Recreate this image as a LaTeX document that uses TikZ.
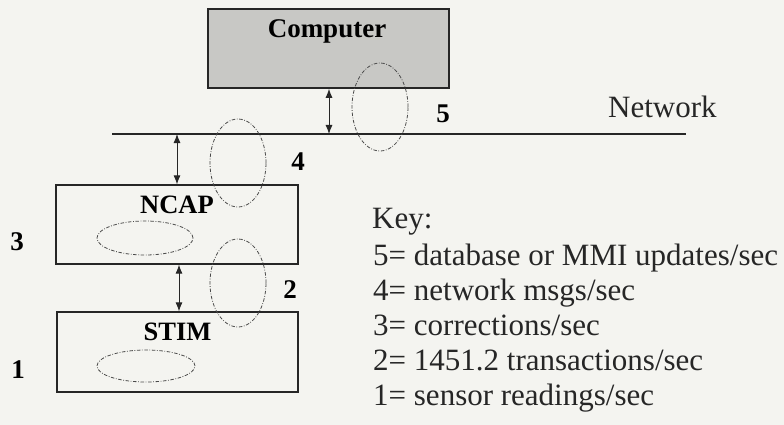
\documentclass[tikz,border=0pt]{standalone}
\usepackage{fontspec}
\setmainfont{Liberation Serif}
\usetikzlibrary{shapes.geometric,arrows.meta}

\definecolor{paper}{HTML}{F4F4F0}
\definecolor{ink}{HTML}{262626}
\definecolor{boxgray}{HTML}{C8C8C5}
\definecolor{dashink}{HTML}{4A4A4A}

\tikzset{
  module/.style={draw=ink, line width=1.3pt, fill=paper, inner sep=0pt},
  hostbox/.style={draw=ink, line width=1.6pt, fill=boxgray, inner sep=0pt},
  boxlabel/.style={font=\fontsize{26.5}{26.5}\selectfont\bfseries, anchor=base, inner sep=0pt},
  ratenum/.style={font=\fontsize{27}{27}\selectfont\bfseries, anchor=base, inner sep=0pt},
  keytext/.style={font=\fontsize{31}{31}\selectfont, anchor=base west, inner sep=0pt, text=ink},
  flowring/.style={ellipse, draw=dashink, line width=0.8pt,
    dash pattern=on 3.5pt off 1.6pt on 0.8pt off 1.6pt, inner sep=0pt},
  link/.style={draw=ink, line width=0.9pt,
    {Latex[length=9pt,width=7pt]}-{Latex[length=9pt,width=7pt]}},
}

\begin{document}
\begin{tikzpicture}[x=1pt,y=-1pt]
  % page
  \fill[paper] (0,0) rectangle (784,425);
  \useasboundingbox (0,0) rectangle (784,425);

  % computer
  \node[hostbox, minimum width=241pt, minimum height=79pt] (comp) at (328.5,48.5) {};
  \node[boxlabel, font=\fontsize{27}{27}\selectfont\bfseries] (comptxt) at (327,38) {Computer};

  % network bus
  \coordinate (netL) at (112,134);
  \coordinate (netR) at (686,134);
  \draw[ink, line width=1.1pt] (netL) -- (netR);
  \node[keytext] (nettxt) at (608,118) {Network};

  % NCAP and STIM modules
  \node[module, minimum width=242pt, minimum height=79pt] (ncap) at (177,224.5) {};
  \node[boxlabel] (ncaptxt) at (177,213) {NCAP};
  \node[module, minimum width=241pt, minimum height=80pt] (stim) at (177.5,352) {};
  \node[boxlabel] (stimtxt) at (177.5,340) {STIM};

  % attachment points on the bus
  \coordinate (tapC) at (329,134);
  \coordinate (tapN) at (177,134);
  \coordinate (tapS) at (179,0);

  % links
  \draw[link] (comp.south -| tapC) -- (tapC);
  \draw[link] (tapN) -- (ncap.north -| tapN);
  \draw[link] (ncap.south -| tapS) -- (stim.north -| tapS);

  % traffic rings
  \node[flowring, minimum width=56pt, minimum height=88pt] (r5) at (380,107) {};
  \node[flowring, minimum width=56pt, minimum height=88pt] (r4) at (238,163) {};
  \node[flowring, minimum width=56pt, minimum height=88pt] (r2) at (238,283) {};
  \node[flowring, minimum width=96pt, minimum height=34pt] (r3) at (145,238) {};
  \node[flowring, minimum width=98pt, minimum height=32pt] (r1) at (146,366) {};

  % ring numbers
  \node[ratenum] (n5) at (443,123) {5};
  \node[ratenum] (n4) at (298,170) {4};
  \node[ratenum] (n3) at (17,250) {3};
  \node[ratenum] (n2) at (290,298) {2};
  \node[ratenum] (n1) at (18,378) {1};

  % key
  \node[keytext] (key)  at (372,228) {Key:};
  \node[keytext] (k5) at (373,265) {5= database or MMI updates/sec};
  \node[keytext] (k4) at (373,300) {4= network msgs/sec};
  \node[keytext] (k3) at (373,335) {3= corrections/sec};
  \node[keytext] (k2) at (373,370) {2= 1451.2 transactions/sec};
  \node[keytext] (k1) at (373,405) {1= sensor readings/sec};
\end{tikzpicture}
\end{document}
